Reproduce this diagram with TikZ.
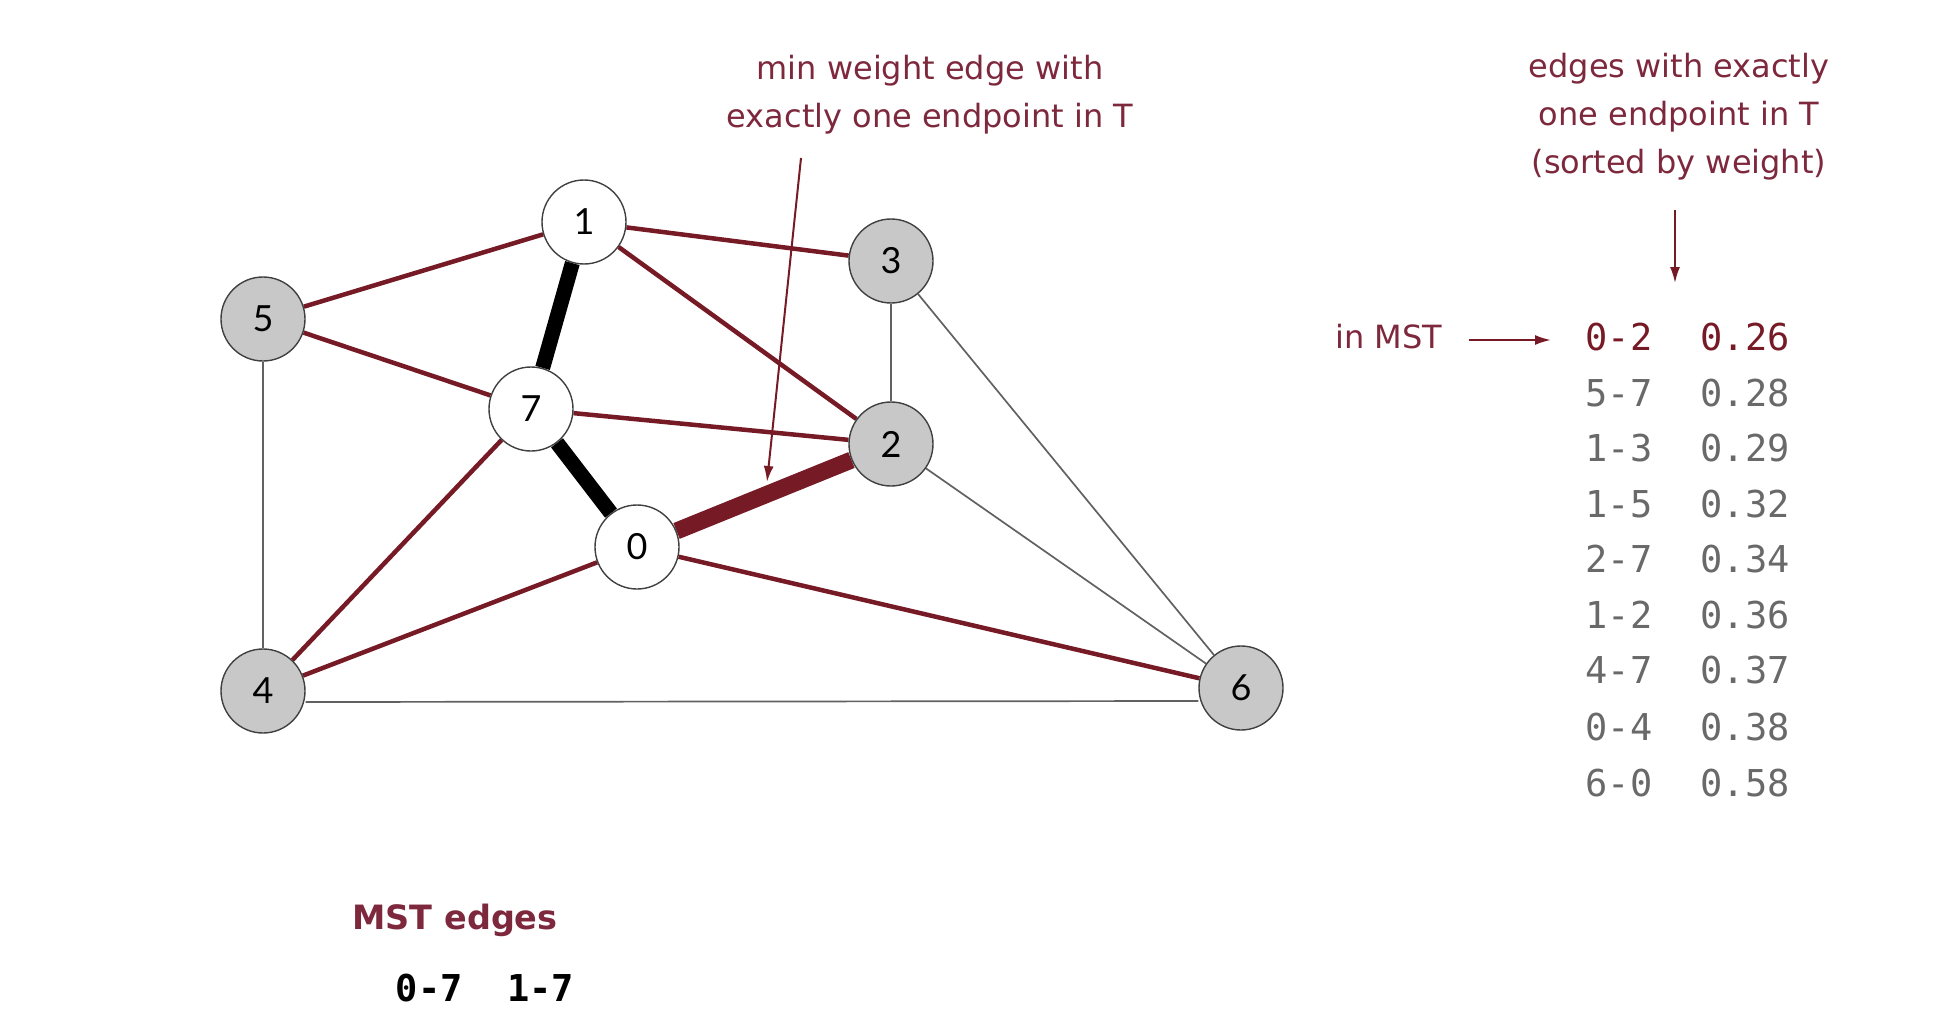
\documentclass[tikz,border=0pt]{standalone}
\usepackage{fontspec}
\setmainfont{DejaVu Sans}
\newfontfamily\monof{DejaVu Sans Mono}
\newfontfamily\vtxf{Lato}
\usetikzlibrary{arrows.meta,backgrounds}
\definecolor{mstred}{RGB}{118,26,38}
\definecolor{lblred}{RGB}{125,40,60}
\definecolor{nodegray}{RGB}{200,200,200}
\definecolor{tblgray}{RGB}{105,105,105}
\begin{document}
\begin{tikzpicture}[x=1pt,y=-1pt,
  vtx/.style={circle, draw=black!75, line width=1.4pt, minimum size=84pt, inner sep=0pt,
    font=\vtxf\fontsize{36}{36}\selectfont},
  tvtx/.style={vtx, fill=white},
  ovtx/.style={vtx, fill=nodegray},
  cand/.style={draw=mstred, line width=4.5pt},
  plainedge/.style={draw=black!62, line width=1.7pt},
  treeedge/.style={draw=black, line width=15pt},
  chosen/.style={draw=mstred, line width=17pt},
  lbl/.style={text=lblred, font=\fontsize{32}{48}\selectfont, align=center},
  arr/.style={draw=mstred, line width=2pt, -{Latex[length=16pt,width=10pt]}},
  tbl/.style={text=tblgray, font=\monof\fontsize{37}{37}\selectfont},
  tblfirst/.style={tbl, text=mstred}
]
\useasboundingbox (0,0) rectangle (1936,1030);

% vertices
\node[tvtx] (n1) at (584,222) {1};
\node[ovtx] (n3) at (891,261) {3};
\node[ovtx] (n5) at (263,319) {5};
\node[tvtx] (n7) at (531,409) {7};
\node[ovtx] (n2) at (891,444) {2};
\node[tvtx] (n0) at (637,547) {0};
\node[ovtx] (n4) at (263,691) {4};
\node[ovtx] (n6) at (1241,688) {6};

\begin{scope}[on background layer]
  % plain edges
  \draw[plainedge] (n3) -- (n2);
  \draw[plainedge] (n3) -- (n6);
  \draw[plainedge] (n2) -- (n6);
  \draw[plainedge] (n5) -- (n4);
  \draw[plainedge] ([yshift=-11pt]n4.east) -- ([yshift=-13pt]n6.west);
  % candidate edges
  \draw[cand] (n5) -- (n1);
  \draw[cand] (n1) -- (n3);
  \draw[cand] (n1) -- (n2);
  \draw[cand] (n5) -- (n7);
  \draw[cand] (n7) -- (n2);
  \draw[cand] (n7) -- (n4);
  \draw[cand] (n0) -- (n4);
  \draw[cand] (n0) -- (n6);
  % tree edges
  \draw[treeedge] (n1) -- (n7);
  \draw[treeedge] (n7) -- (n0);
  \draw[chosen] (n0) -- (n2);
\end{scope}

% label: min weight edge
\node[lbl] (minlbl) at (930,95) {min weight edge with\\exactly one endpoint in T};
\coordinate (minstart) at (801,158);
\coordinate (minend) at (767,482);
\draw[arr] (minstart) -- (minend);

% label: sorted edges
\node[lbl] (sortlbl) at (1679,117) {edges with exactly\\one endpoint in T\\(sorted by weight)};
\coordinate (sortstart) at (1675,210);
\coordinate (sortend) at (1675,283);
\draw[arr] (sortstart) -- (sortend);

% in MST
\node[lbl] (inmst) at (1389,337) {in MST};
\coordinate (inmststart) at (1469,340);
\coordinate (inmstend) at (1551,340);
\draw[arr] (inmststart) -- (inmstend);

% table
\node[tblfirst] (e1) at (1619,337) {0-2};
\node[tblfirst] (w1) at (1745,337) {0.26};
\node[tbl] (e2) at (1619,393) {5-7};
\node[tbl] (w2) at (1745,393) {0.28};
\node[tbl] (e3) at (1619,448) {1-3};
\node[tbl] (w3) at (1745,448) {0.29};
\node[tbl] (e4) at (1619,504) {1-5};
\node[tbl] (w4) at (1745,504) {0.32};
\node[tbl] (e5) at (1619,559) {2-7};
\node[tbl] (w5) at (1745,559) {0.34};
\node[tbl] (e6) at (1619,615) {1-2};
\node[tbl] (w6) at (1745,615) {0.36};
\node[tbl] (e7) at (1619,670) {4-7};
\node[tbl] (w7) at (1745,670) {0.37};
\node[tbl] (e8) at (1619,727) {0-4};
\node[tbl] (w8) at (1745,727) {0.38};
\node[tbl] (e9) at (1619,783) {6-0};
\node[tbl] (w9) at (1745,783) {0.58};

% MST edges
\node[text=lblred, font=\bfseries\fontsize{33.5}{33.5}\selectfont] (msttitle) at (455,920) {MST edges};
\node[text=black, font=\monof\bfseries\fontsize{37}{37}\selectfont] (mstlist) at (485,988) {0-7\ \ 1-7};
\end{tikzpicture}
\end{document}
